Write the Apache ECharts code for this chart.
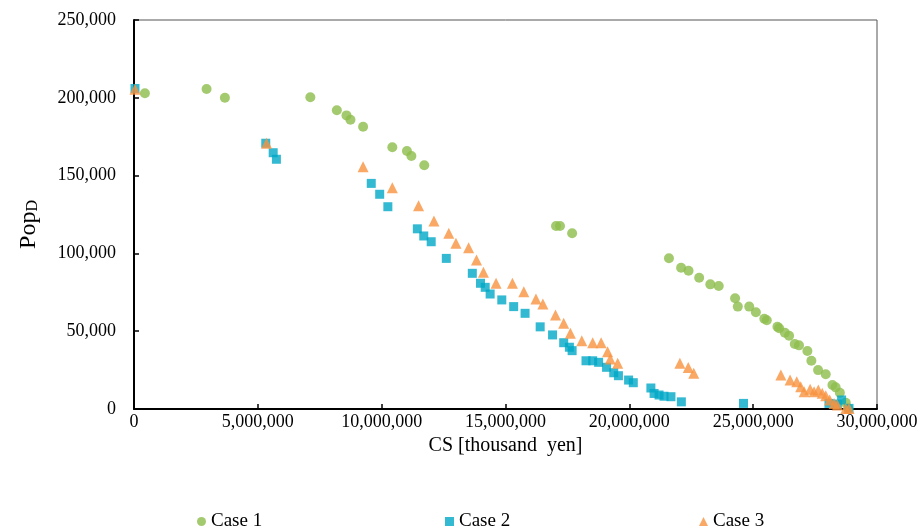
<!DOCTYPE html>
<html>
<head>
<meta charset="utf-8">
<script src="https://cdn.jsdelivr.net/npm/echarts@6/dist/echarts.min.js"></script>
<style>
  html, body { margin: 0; padding: 0; background: #fff; }
  #chart { width: 923px; height: 529px; }
</style>
</head>
<body>
<div id="chart"></div>
<script>
// 数据: [CS (thousand yen), PopD]
var case1 = [[440000,202900],[2930000,205700],[3670000,200000],[7120000,200300],[8190000,192000],[8580000,188700],
    [8740000,185900],[9250000,181400],[10430000,168200],[11020000,165800],[11200000,162600],[11720000,156600],
    [17040000,117600],[17200000,117600],[17690000,112900],[21600000,96900],[22090000,90800],[22390000,88900],
    [22820000,84400],[23270000,80100],[23610000,79000],[24270000,71200],[24380000,65800],[24840000,65800],
    [25110000,62200],[25450000,58000],[25550000,57000],[25980000,52900],[26050000,51900],[26280000,49000],
    [26450000,47100],[26680000,41800],[26850000,40900],[27190000,37300],[27350000,31000],[27620000,25000],
    [27930000,22300],[28200000,15400],[28330000,13900],[28500000,10500],[28740000,4000],[28840000,300]];

var case2 = [[40000,206000],[5320000,170800],[5620000,164700],[5750000,160500],[9580000,145000],[9920000,138000],
    [10250000,130000],[11440000,115800],[11700000,111200],[12000000,107500],[12610000,96800],[13660000,87200],
    [13990000,80800],[14180000,78200],[14380000,73900],[14850000,70100],[15330000,65800],[15790000,61500],
    [16400000,52800],[16900000,47600],[17350000,42600],[17580000,39700],[17690000,37500],[18250000,31000],
    [18520000,31000],[18760000,30000],[19080000,26800],[19370000,23300],[19560000,21400],[19970000,18600],
    [20160000,16900],[20870000,13500],[21000000,10000],[21200000,9000],[21400000,8200],[21680000,7900],
    [22100000,4600],[24610000,3600],[28060000,3600],[28400000,3200],[28570000,5800],[28870000,400]];

var case3 = [[40000,205500],[5350000,170800],[9250000,155700],[10430000,142200],[11490000,130700],[12110000,120800],
    [12710000,112900],[13000000,106500],[13510000,103700],[13830000,95800],[14110000,87900],[14620000,80800],
    [15280000,80800],[15740000,75400],[16230000,70700],[16510000,67500],[17020000,60400],[17350000,55100],
    [17620000,48700],[18080000,43900],[18520000,42600],[18860000,42600],[19120000,36800],[19230000,32100],
    [19530000,29400],[22040000,29400],[22380000,26700],[22600000,22900],[26120000,21900],[26490000,18600],
    [26760000,17500],[26920000,14300],[27060000,11100],[27300000,12700],[27460000,11100],[27630000,12200],
    [27790000,10100],[27930000,8500],[28090000,5800],[28270000,3600],[28400000,2600],[28740000,400],[28870000,400]];

var seriesNames = ['Case 1', 'Case 2', 'Case 3'];
var seriesColors = ['#8dbd4c', '#00a8c6', '#f7923e'];

var serif = 'Liberation Serif, Times New Roman, serif';

function fmt(v) {
    return Number(v).toLocaleString('en-US');
}

var myChart = echarts.init(document.getElementById('chart'));

var option = {
    animation: false,
    backgroundColor: '#fff',
    textStyle: { fontFamily: serif },
    grid: {
        left: 134, right: 46, top: 20, bottom: 120,
        show: true, borderColor: '#555', borderWidth: 1
    },
    legend: [
        { left: 192, top: 507, data: [seriesNames[0]] },
        { left: 440, top: 507, data: [seriesNames[1]] },
        { left: 694, top: 507, data: [seriesNames[2]] }
    ].map(function (l) {
        l.itemWidth = 9; l.itemHeight = 9; l.itemGap = 4;
        l.textStyle = { fontFamily: serif, fontSize: 19, color: '#000' };
        return l;
    }),
    xAxis: {
        type: 'value',
        min: 0, max: 30000000, interval: 5000000,
        name: 'CS [thousand  yen]',
        nameLocation: 'middle',
        nameGap: 20,
        nameTextStyle: { fontFamily: serif, fontSize: 20, color: '#000' },
        axisLine: { show: true, lineStyle: { color: '#000', width: 2 } },
        axisTick: { show: true, inside: true, length: 5, lineStyle: { color: '#000', width: 1.5 } },
        axisLabel: { fontFamily: serif, fontSize: 18, color: '#000', margin: 4, formatter: fmt },
        splitLine: { show: false }
    },
    yAxis: {
        type: 'value',
        min: 0, max: 250000, interval: 50000,
        name: '{a|Pop}{b|D}',
        nameLocation: 'middle',
        nameGap: 93,
        nameTextStyle: {
            padding: [0, 20, 0, 0],
            rich: {
                a: { fontFamily: serif, fontSize: 24, color: '#000' },
                b: { fontFamily: serif, fontSize: 16, color: '#000', verticalAlign: 'bottom', padding: [6, 0, 0, 0] }
            }
        },
        axisLine: { show: true, lineStyle: { color: '#000', width: 2 } },
        axisTick: { show: true, inside: true, length: 5, lineStyle: { color: '#000', width: 1.5 } },
        axisLabel: { fontFamily: serif, fontSize: 18, color: '#000', margin: 18, formatter: fmt },
        splitLine: { show: false }
    },
    series: [
        { name: seriesNames[0], type: 'scatter', symbol: 'circle', symbolSize: 10, data: case1,
          itemStyle: { color: seriesColors[0] } },
        { name: seriesNames[1], type: 'scatter', symbol: 'rect', symbolSize: 9, data: case2,
          itemStyle: { color: seriesColors[1] } },
        { name: seriesNames[2], type: 'scatter', symbol: 'triangle', symbolSize: 11, data: case3,
          itemStyle: { color: seriesColors[2] } }
    ]
};

myChart.setOption(option);
</script>
</body>
</html>
